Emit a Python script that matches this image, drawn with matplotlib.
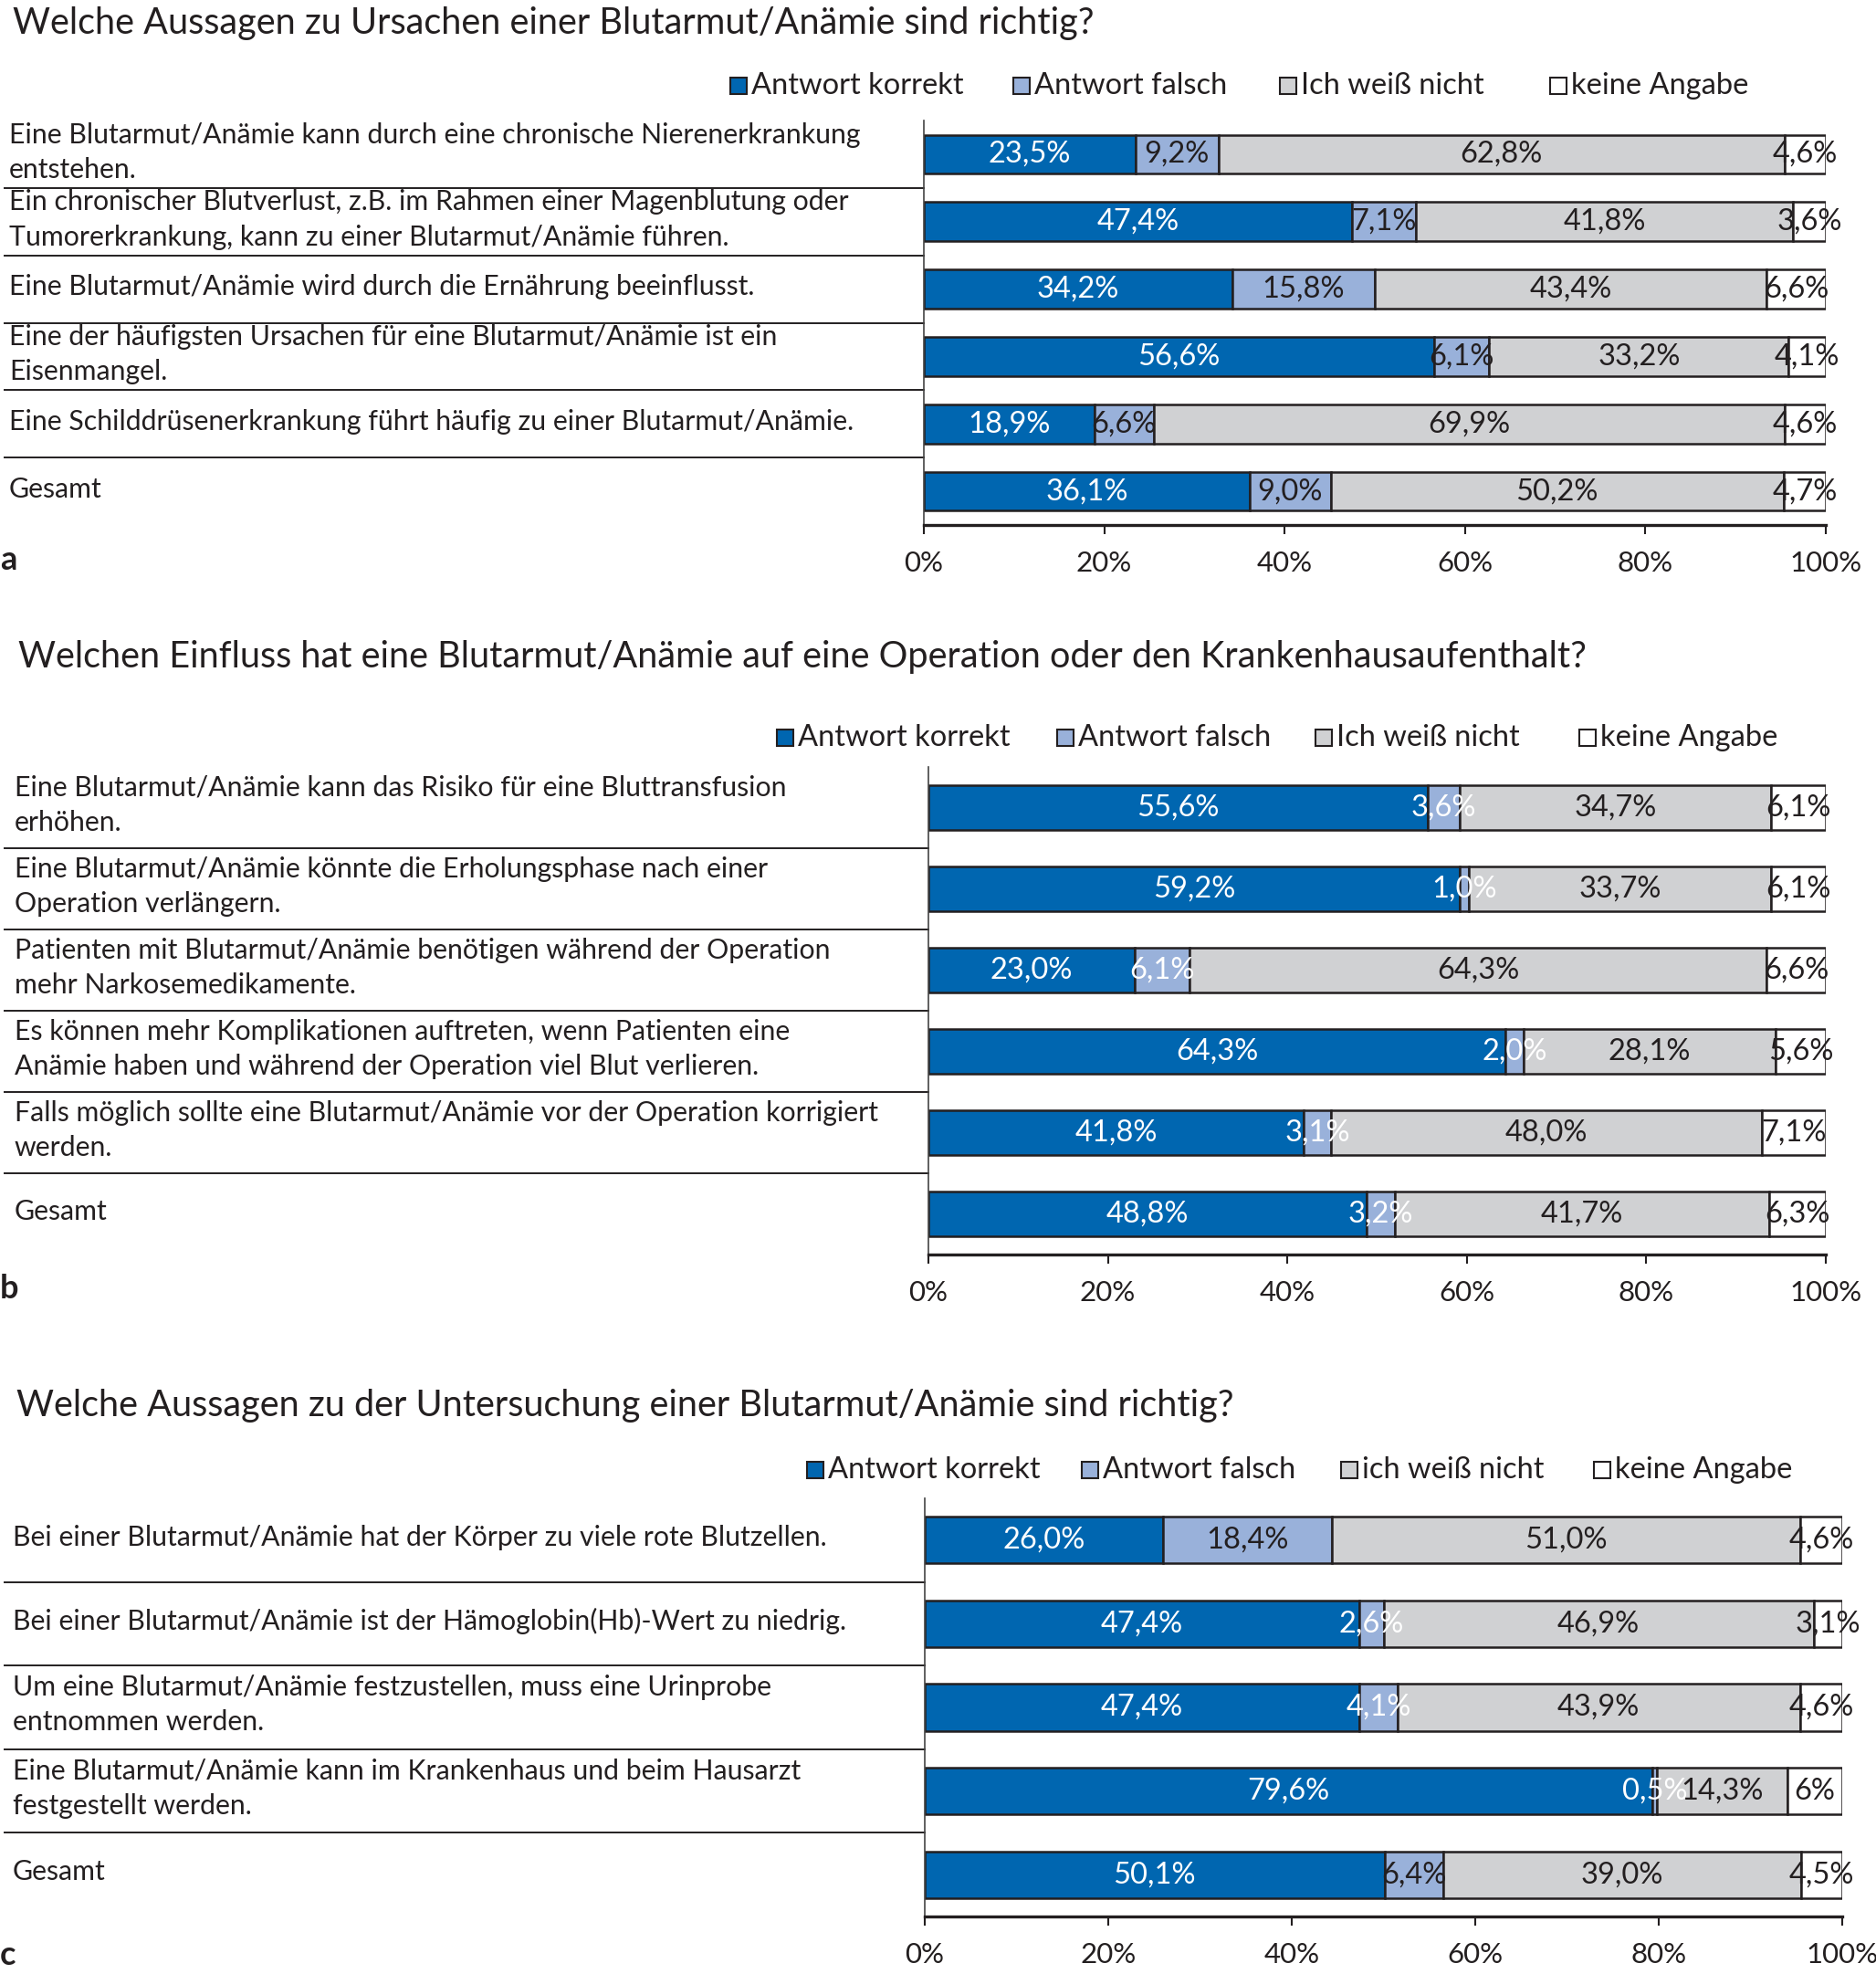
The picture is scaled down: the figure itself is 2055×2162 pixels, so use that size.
import matplotlib
matplotlib.use('Agg')
import matplotlib.pyplot as plt
import numpy as np
from matplotlib.patches import Rectangle
from matplotlib.transforms import blended_transform_factory

plt.rcParams['font.family'] = ['Lato', 'DejaVu Sans']

W, H, DPI = 2055, 2162, 100
EDGE = '#231f20'
COLORS = ['#0066b0', '#99b1da', '#d0d1d3', '#ffffff']
LABEL_SIZE = 21.8
VALUE_SIZE = 23.5
TICK_SIZE = 22.5
TITLE_SIZE = 28.5

legend_ab = ['Antwort korrekt', 'Antwort falsch', 'Ich weiß nicht', 'keine Angabe']
legend_c = ['Antwort korrekt', 'Antwort falsch', 'ich weiß nicht', 'keine Angabe']
ticks = [0, 20, 40, 60, 80, 100]

# --- panel a ---
title_a = 'Welche Aussagen zu Ursachen einer Blutarmut/Anämie sind richtig?'
labels_a = [
    'Eine Blutarmut/Anämie kann durch eine chronische Nierenerkrankung\nentstehen.',
    'Ein chronischer Blutverlust, z.B. im Rahmen einer Magenblutung oder\n'
    'Tumorerkrankung, kann zu einer Blutarmut/Anämie führen.',
    'Eine Blutarmut/Anämie wird durch die Ernährung beeinflusst.',
    'Eine der häufigsten Ursachen für eine Blutarmut/Anämie ist ein\nEisenmangel.',
    'Eine Schilddrüsenerkrankung führt häufig zu einer Blutarmut/Anämie.',
    'Gesamt',
]
korrekt_a = [23.5, 47.4, 34.2, 56.6, 18.9, 36.1]
falsch_a = [9.2, 7.1, 15.8, 6.1, 6.6, 9.0]
weiss_a = [62.8, 41.8, 43.4, 33.2, 69.9, 50.2]
keine_a = [4.6, 3.6, 6.6, 4.1, 4.6, 4.7]

# --- panel b ---
title_b = ('Welchen Einfluss hat eine Blutarmut/Anämie auf eine Operation '
           'oder den Krankenhausaufenthalt?')
labels_b = [
    'Eine Blutarmut/Anämie kann das Risiko für eine Bluttransfusion\nerhöhen.',
    'Eine Blutarmut/Anämie könnte die Erholungsphase nach einer\nOperation verlängern.',
    'Patienten mit Blutarmut/Anämie benötigen während der Operation\n'
    'mehr Narkosemedikamente.',
    'Es können mehr Komplikationen auftreten, wenn Patienten eine\n'
    'Anämie haben und während der Operation viel Blut verlieren.',
    'Falls möglich sollte eine Blutarmut/Anämie vor der Operation korrigiert\nwerden.',
    'Gesamt',
]
korrekt_b = [55.6, 59.2, 23.0, 64.3, 41.8, 48.8]
falsch_b = [3.6, 1.0, 6.1, 2.0, 3.1, 3.2]
weiss_b = [34.7, 33.7, 64.3, 28.1, 48.0, 41.7]
keine_b = [6.1, 6.1, 6.6, 5.6, 7.1, 6.3]

# --- panel c ---
title_c = 'Welche Aussagen zu der Untersuchung einer Blutarmut/Anämie sind richtig?'
labels_c = [
    'Bei einer Blutarmut/Anämie hat der Körper zu viele rote Blutzellen.',
    'Bei einer Blutarmut/Anämie ist der Hämoglobin(Hb)-Wert zu niedrig.',
    'Um eine Blutarmut/Anämie festzustellen, muss eine Urinprobe\nentnommen werden.',
    'Eine Blutarmut/Anämie kann im Krankenhaus und beim Hausarzt\nfestgestellt werden.',
    'Gesamt',
]
korrekt_c = [26.0, 47.4, 47.4, 79.6, 50.1]
falsch_c = [18.4, 2.6, 4.1, 0.5, 6.4]
weiss_c = [51.0, 46.9, 43.9, 14.3, 39.0]
keine_c = [4.6, 3.1, 4.6, 6, 4.5]


def fmt(v):
  if isinstance(v, int):
    return f'{v}%'
  return f'{v:.1f}'.replace('.', ',') + '%'


def fx(x):
  return x / W


def fy(y):
  return 1 - y / H


def draw_panel(fig, layout, title, labels, series, legend_names):
  x0, y0, x1, y1 = layout['box']
  ax = fig.add_axes([fx(x0), fy(y1), (x1 - x0) / W, (y1 - y0) / H])
  n = len(labels)
  data = np.array(series, dtype=float)
  shares = data / data.sum(axis=0) * 100
  left = np.zeros(n)
  text_colors = [['white'] * n, layout['falsch_color'], [EDGE] * n, [EDGE] * n]
  for k in range(len(series)):
    ax.barh(np.arange(n), shares[k], left=left, height=layout['bar_h'],
            color=COLORS[k], edgecolor=EDGE, linewidth=1.8, zorder=2)
    for i in range(n):
      ax.text(left[i] + shares[k][i] / 2, i, fmt(series[k][i]),
              ha='center', va='center', fontsize=VALUE_SIZE,
              color=text_colors[k][i], zorder=3)
    left += shares[k]

  ax.set_xlim(0, 100)
  ax.set_ylim(n - 0.5, -0.5)
  ax.set_xticks(ticks)
  ax.set_xticklabels([f'{t}%' for t in ticks], fontsize=TICK_SIZE)
  ax.set_yticks([])
  ax.tick_params(axis='x', direction='out', length=7, width=1.5,
                 color=EDGE, pad=13, labelcolor=EDGE)
  for side in ('top', 'right'):
    ax.spines[side].set_visible(False)
  ax.spines['left'].set_color('#444444')
  ax.spines['left'].set_linewidth(1.2)
  ax.spines['bottom'].set_color(EDGE)
  ax.spines['bottom'].set_linewidth(2.4)

  # category labels and separators to the left of the axis
  trans = blended_transform_factory(fig.transFigure, ax.transData)
  for i, label in enumerate(labels):
    ax.text(fx(layout['label_x']), i - 0.03, label, transform=trans,
            ha='left', va='center', fontsize=LABEL_SIZE, color=EDGE,
            linespacing=1.45)
  for i in range(n - 1):
    ax.plot([fx(5), fx(x0)], [i + 0.5, i + 0.5], transform=trans,
            color=EDGE, linewidth=1.4, clip_on=False)

  fig.text(fx(layout['label_x'] + 4), fy(layout['title_y']), title,
           ha='left', va='center', fontsize=TITLE_SIZE, color=EDGE)
  fig.text(fx(0), fy(layout['letter_y']), layout['letter'], ha='left',
           va='center', fontsize=26, fontweight='bold', color=EDGE)

  ly = layout['legend_y']
  for name, color, bx in zip(legend_names, COLORS, layout['legend_x']):
    fig.add_artist(Rectangle((fx(bx), fy(ly + 9)), 18 / W, 18 / H,
                             transform=fig.transFigure, facecolor=color,
                             edgecolor=EDGE, linewidth=1.5))
    fig.text(fx(bx + 23), fy(ly), name, ha='left', va='center',
             fontsize=VALUE_SIZE, color=EDGE)
  return ax


def main():
  fig = plt.figure(figsize=(W / DPI, H / DPI), dpi=DPI)
  fig.patch.set_facecolor('white')

  layout_a = dict(box=(1012, 132, 2000, 575), bar_h=0.58, label_x=10,
                  title_y=25, letter='a', letter_y=614, legend_y=94,
                  legend_x=[800, 1110, 1402, 1698],
                  falsch_color=[EDGE] * 6)
  layout_b = dict(box=(1017, 840, 2000, 1374), bar_h=0.56, label_x=16,
                  title_y=720, letter='b', letter_y=1412, legend_y=808,
                  legend_x=[851, 1158, 1441, 1730],
                  falsch_color=['white'] * 6)
  layout_c = dict(box=(1013, 1641, 2018, 2099), bar_h=0.56, label_x=14,
                  title_y=1539, letter='c', letter_y=2142, legend_y=1610,
                  legend_x=[884, 1185, 1469, 1746],
                  falsch_color=[EDGE, 'white', 'white', 'white', EDGE])

  draw_panel(fig, layout_a, title_a, labels_a,
             [korrekt_a, falsch_a, weiss_a, keine_a], legend_ab)
  draw_panel(fig, layout_b, title_b, labels_b,
             [korrekt_b, falsch_b, weiss_b, keine_b], legend_ab)
  draw_panel(fig, layout_c, title_c, labels_c,
             [korrekt_c, falsch_c, weiss_c, keine_c], legend_c)

  fig.savefig('out.png', dpi=DPI, facecolor='white')
  plt.close(fig)


if __name__ == '__main__':
  main()
